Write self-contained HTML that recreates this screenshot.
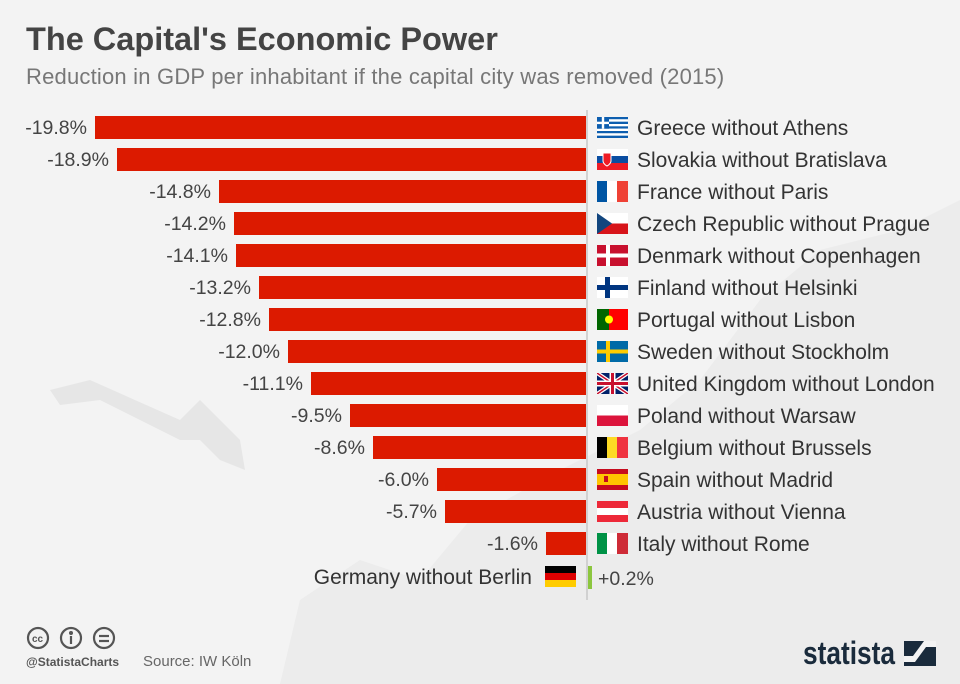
<!DOCTYPE html>
<html><head><meta charset="utf-8"><style>
body{margin:0;width:960px;height:684px;background:#f3f3f3;font-family:"Liberation Sans","DejaVu Sans",sans-serif;position:relative;overflow:hidden}
.a{position:absolute}
.t{left:26px;top:21px;font-size:32.5px;font-weight:bold;color:#444}
.s{left:26px;top:64px;font-size:22px;color:#777;letter-spacing:0.2px}
.bar{position:absolute;height:23px;background:#dc1a00}
.v{position:absolute;font-size:19.5px;color:#444;text-align:right;width:120px}
.l{position:absolute;left:637px;font-size:21px;color:#333;white-space:nowrap}
.f{position:absolute;left:597px;width:31px;height:21px}
</style></head><body>
<svg class="a" style="left:0;top:0" width="960" height="684">
<path d="M280 684 L300 600 L360 560 L420 580 L470 520 L560 470 L640 430 L700 380 L760 300 L820 250 L900 230 L960 200 L960 684 Z" fill="#ececec"/>
<path d="M50 390 L90 380 L180 420 L200 400 L240 440 L245 470 L220 460 L200 440 L180 440 L100 400 L60 405 Z" fill="#e6e6e6"/>
<line x1="587" y1="110" x2="587" y2="600" stroke="#c8c8c8" stroke-width="1.5"/>
</svg>
<div class="a t">The Capital's Economic Power</div>
<div class="a s">Reduction in GDP per inhabitant if the capital city was removed (2015)</div>
<div id="c"></div>
<div class="bar" style="left:588px;top:566px;width:4px;background:#8cc63f"></div>
<div class="a" style="left:598px;top:568px;font-size:19.5px;color:#444">+0.2%</div>
<div class="a" style="left:290px;width:242px;text-align:right;top:566px;font-size:21px;color:#333">Germany without Berlin</div>
<svg class="a" style="left:545px;top:566px" width="31" height="21"><rect width="31" height="7" fill="#000"/><rect y="7" width="31" height="7" fill="#d00"/><rect y="14" width="31" height="7" fill="#fc0"/></svg>
<svg class="a" style="left:26px;top:626px" width="94" height="26" fill="none" stroke="#555" stroke-width="2.2"><circle cx="12" cy="12" r="10"/><circle cx="45" cy="12" r="10"/><circle cx="78" cy="12" r="10"/><text x="6" y="16" font-size="10" fill="#555" stroke="none" font-weight="bold">cc</text><circle cx="45" cy="7" r="2" fill="#555" stroke="none"/><line x1="45" y1="10" x2="45" y2="18"/><line x1="73" y1="10" x2="83" y2="10"/><line x1="73" y1="15" x2="83" y2="15"/></svg>
<div class="a" style="left:26px;top:655px;font-size:12px;font-weight:bold;color:#555">@StatistaCharts</div>
<div class="a" style="left:143px;top:653px;font-size:15px;color:#666">Source: IW Köln</div>
<svg class="a" style="left:800px;top:636px" width="140" height="36"><text x="3" y="28" font-size="32" font-weight="bold" fill="#1a2b3c" textLength="92" lengthAdjust="spacingAndGlyphs" font-family="Liberation Sans, sans-serif">statista</text><g transform="translate(104,5)"><rect width="32" height="25" fill="#1a2b3c"/><path d="M0 21 L11 21 L22 6 L32 6 L32 0 L20 0 L9 15 L0 15 Z" fill="#f3f3f3"/></g></svg>
<script>
var d=[[19.8,"Greece without Athens","gr"],[18.9,"Slovakia without Bratislava","sk"],[14.8,"France without Paris","fr"],[14.2,"Czech Republic without Prague","cz"],[14.1,"Denmark without Copenhagen","dk"],[13.2,"Finland without Helsinki","fi"],[12.8,"Portugal without Lisbon","pt"],[12.0,"Sweden without Stockholm","se"],[11.1,"United Kingdom without London","uk"],[9.5,"Poland without Warsaw","pl"],[8.6,"Belgium without Brussels","be"],[6.0,"Spain without Madrid","es"],[5.7,"Austria without Vienna","at"],[1.6,"Italy without Rome","it"]];
function flag(c){var w=31,h=21;
if(c=="gr"){var s="";for(var i=0;i<9;i++)s+='<rect y="'+(i*h/9)+'" width="31" height="'+(h/9)+'" fill="'+(i%2?'#fff':'#0d5eaf')+'"/>';return s+'<rect width="12" height="11.7" fill="#0d5eaf"/><rect x="4.8" width="2.4" height="11.7" fill="#fff"/><rect y="4.7" width="12" height="2.4" fill="#fff"/>';}
if(c=="sk")return '<rect width="31" height="7" fill="#fff"/><rect y="7" width="31" height="7" fill="#0b4ea2"/><rect y="14" width="31" height="7" fill="#ee1c25"/><path d="M6 4h8v8c0 3-4 5-4 5s-4-2-4-5z" fill="#ee1c25" stroke="#fff"/>';
if(c=="fr")return '<rect width="11" height="21" fill="#0055a4"/><rect x="10" width="11" height="21" fill="#fff"/><rect x="20" width="11" height="21" fill="#ef4135"/>';
if(c=="cz")return '<rect width="31" height="10.5" fill="#fff"/><rect y="10.5" width="31" height="10.5" fill="#d7141a"/><path d="M0 0L15 10.5L0 21z" fill="#11457e"/>';
if(c=="dk")return '<rect width="31" height="21" fill="#c8102e"/><rect x="9" width="4" height="21" fill="#fff"/><rect y="8.5" width="31" height="4" fill="#fff"/>';
if(c=="fi")return '<rect width="31" height="21" fill="#fff"/><rect x="8" width="5" height="21" fill="#003580"/><rect y="8" width="31" height="5" fill="#003580"/>';
if(c=="pt")return '<rect width="31" height="21" fill="#f00"/><rect width="12" height="21" fill="#060"/><circle cx="12" cy="10.5" r="4" fill="#ff0"/>';
if(c=="se")return '<rect width="31" height="21" fill="#006aa7"/><rect x="9" width="4" height="21" fill="#fecc00"/><rect y="8.5" width="31" height="4" fill="#fecc00"/>';
if(c=="uk")return '<rect width="31" height="21" fill="#012169"/><path d="M0 0L31 21M31 0L0 21" stroke="#fff" stroke-width="4"/><path d="M0 0L31 21M31 0L0 21" stroke="#c8102e" stroke-width="1.5"/><rect x="12.5" width="6" height="21" fill="#fff"/><rect y="7.5" width="31" height="6" fill="#fff"/><rect x="14" width="3" height="21" fill="#c8102e"/><rect y="9" width="31" height="3" fill="#c8102e"/>';
if(c=="pl")return '<rect width="31" height="10.5" fill="#fff"/><rect y="10.5" width="31" height="10.5" fill="#dc143c"/>';
if(c=="be")return '<rect width="11" height="21" fill="#000"/><rect x="10" width="11" height="21" fill="#fdda24"/><rect x="20" width="11" height="21" fill="#ef3340"/>';
if(c=="es")return '<rect width="31" height="21" fill="#c60b1e"/><rect y="5" width="31" height="11" fill="#ffc400"/><rect x="7" y="7" width="4" height="6" fill="#c60b1e"/>';
if(c=="at")return '<rect width="31" height="21" fill="#ed2939"/><rect y="7" width="31" height="7" fill="#fff"/>';
if(c=="it")return '<rect width="11" height="21" fill="#009246"/><rect x="10" width="11" height="21" fill="#fff"/><rect x="20" width="11" height="21" fill="#ce2b37"/>';}
var h="";
d.forEach(function(r,i){var y=116+i*32,w=Math.round(r[0]*24.8),x=586-w;
h+='<div class="bar" style="left:'+x+'px;top:'+y+'px;width:'+w+'px"></div>';
h+='<div class="v" style="left:'+(x-128)+'px;top:'+(y+1)+'px">-'+r[0].toFixed(1)+'%</div>';
h+='<svg class="f" style="top:'+(y+1)+'px" width="31" height="21">'+flag(r[2])+'</svg>';
h+='<div class="l" style="top:'+(y+1)+'px">'+r[1]+'</div>';});
document.getElementById("c").innerHTML=h;
</script>
</body></html>
